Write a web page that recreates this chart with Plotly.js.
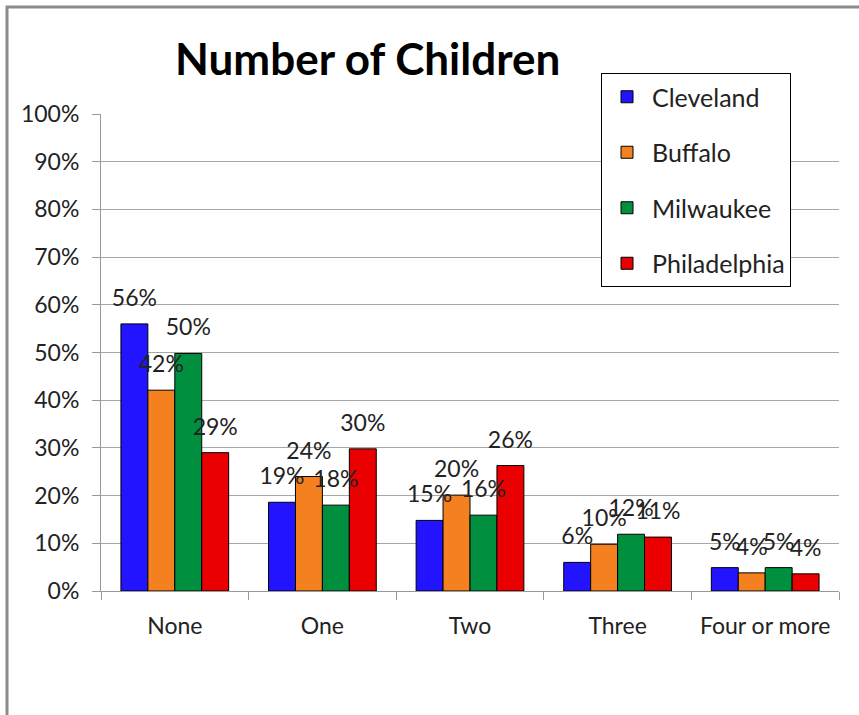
<!DOCTYPE html>
<html>
<head>
<meta charset="utf-8">
<script src="https://cdn.plot.ly/plotly-3.0.1.min.js"></script>
<style>html,body{margin:0;padding:0;background:#fff;}#chart{width:859px;height:715px;}</style>
</head>
<body>
<div id="chart"></div>
<script>
const categories = ["None", "One", "Two", "Three", "Four or more"];
const cleveland = [0.560, 0.186, 0.148, 0.060, 0.049];
const buffalo = [0.421, 0.240, 0.201, 0.098, 0.038];
const milwaukee = [0.498, 0.180, 0.159, 0.119, 0.049];
const philadelphia = [0.290, 0.298, 0.263, 0.113, 0.036];
const seriesNames = ["Cleveland", "Buffalo", "Milwaukee", "Philadelphia"];
const seriesColors = ["#2314ff", "#f4801f", "#008f3f", "#ea0000"];
const yTickVals = [0, 0.1, 0.2, 0.3, 0.4, 0.5, 0.6, 0.7, 0.8, 0.9, 1.0];
const yTickText = ["0%", "10%", "20%", "30%", "40%", "50%", "60%", "70%", "80%", "90%", "100%"];

const FONT = "Lato, 'Liberation Sans', sans-serif";
const allSeries = [cleveland, buffalo, milwaukee, philadelphia];
const barTraces = allSeries.map((vals, i) => ({
  type: "bar",
  name: seriesNames[i],
  x: categories,
  y: vals,
  legendgroup: "g" + i,
  offsetgroup: "o" + i,
  alignmentgroup: "a",
  marker: {color: seriesColors[i], line: {color: "#000", width: 1}},
  textposition: "none",
  hoverinfo: "name+y"
}));
const labelTraces = allSeries.map((vals, i) => ({
  type: "scatter",
  mode: "markers+text",
  name: seriesNames[i] + " labels",
  x: categories,
  y: vals,
  legendgroup: "g" + i,
  offsetgroup: "o" + i,
  alignmentgroup: "a",
  showlegend: false,
  marker: {size: 18, opacity: 0, color: seriesColors[i]},
  texttemplate: "%{y:.0%}",
  textposition: "top center",
  textfont: {family: FONT, size: 23, color: "#222"},
  cliponaxis: false,
  hoverinfo: "skip"
}));

const layout = {
  width: 859, height: 715,
  paper_bgcolor: "#fff", plot_bgcolor: "#fff",
  margin: {l: 101, r: 20, t: 114, b: 124},
  font: {family: FONT, size: 23, color: "#222"},
  barmode: "group",
  bargap: 0.27,
  bargroupgap: 0,
  scattermode: "group",
  scattergap: 0.27,
  title: {
    text: "<b>Number of Children</b>",
    font: {family: FONT, size: 44, color: "#000"},
    x: 0.428, xanchor: "center", xref: "container",
    y: 1 - 60/715, yanchor: "middle", yref: "container"
  },
  xaxis: {
    type: "category",
    tickson: "boundaries",
    ticks: "outside", ticklen: 8, tickcolor: "#999", tickwidth: 1,
    showline: true, linecolor: "#999", linewidth: 1,
    showgrid: false, zeroline: false,
    ticklabelstandoff: 14,
    tickfont: {family: FONT, size: 23, color: "#222"}
  },
  yaxis: {
    range: [0, 1],
    tickvals: yTickVals, ticktext: yTickText,
    ticks: "outside", ticklen: 8, tickcolor: "#999", tickwidth: 1,
    showline: true, linecolor: "#999", linewidth: 1,
    showgrid: true, gridcolor: "#a6a6a6", gridwidth: 1,
    zeroline: false,
    ticklabelstandoff: 8,
    tickfont: {family: FONT, size: 23, color: "#222"}
  },
  legend: {
    x: (601 - 101) / 738, xanchor: "left",
    y: (591 - 73) / 477, yanchor: "top",
    bgcolor: "#fff", bordercolor: "#000", borderwidth: 1,
    font: {family: FONT, size: 25, color: "#222"},
    tracegroupgap: 20,
    traceorder: "grouped",
    itemwidth: 40
  },
  shapes: [{
    type: "rect", xref: "paper", yref: "paper",
    x0: (7 - 101) / 738, x1: (900 - 101) / 738,
    y0: (591 - 800) / 477, y1: (591 - 7) / 477,
    line: {color: "#8c8c8c", width: 3}, fillcolor: "rgba(0,0,0,0)",
    layer: "below"
  }],
  showlegend: true
};

Plotly.newPlot("chart", barTraces.concat(labelTraces), layout, {displayModeBar: false, staticPlot: true});
</script>
</body>
</html>
